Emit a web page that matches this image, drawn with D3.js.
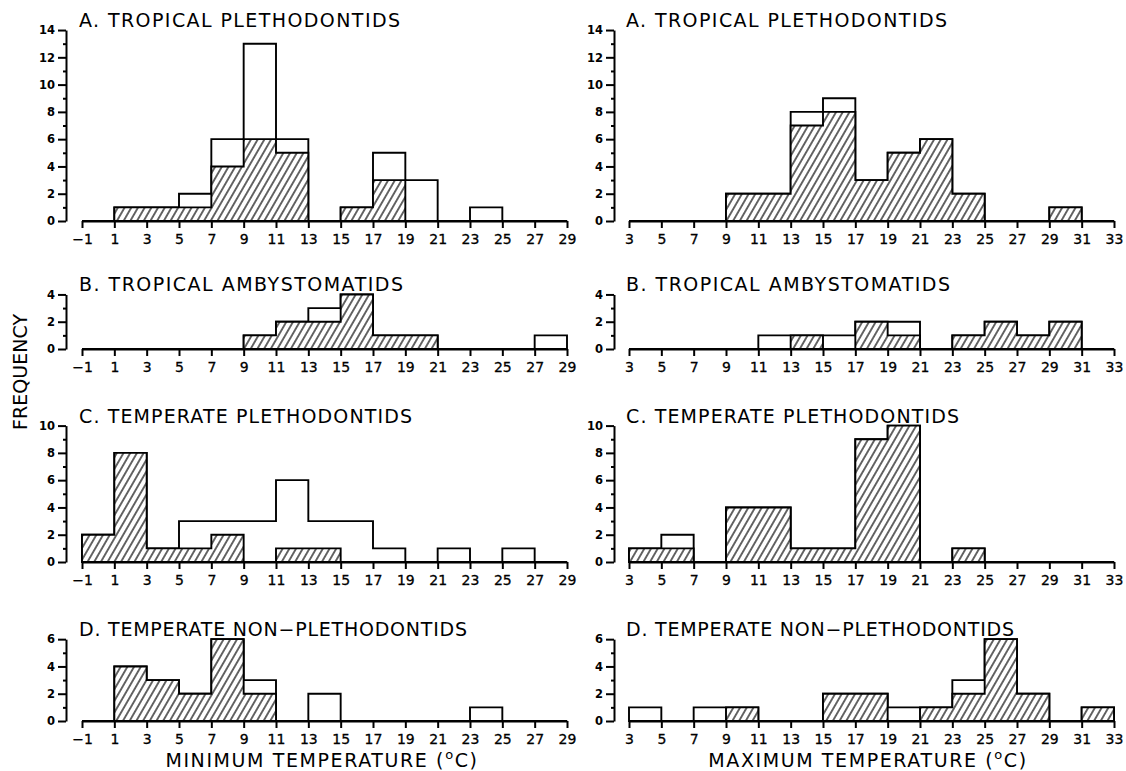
<!DOCTYPE html>
<html>
<head>
<meta charset="utf-8">
<script src="https://cdnjs.cloudflare.com/ajax/libs/d3/7.8.5/d3.min.js"></script>
<style>
  body { margin: 0; background: #fff; }
  svg text { font-family: "DejaVu Sans", sans-serif; fill: #000; }
</style>
</head>
<body>
<div id="chart"></div>
<script>
// Bin starts, 2 degree wide bins
const minBins = [-1, 1, 3, 5, 7, 9, 11, 13, 15, 17, 19, 21, 23, 25, 27];
const maxBins = [3, 5, 7, 9, 11, 13, 15, 17, 19, 21, 23, 25, 27, 29, 31];
const minTicks = [-1, 1, 3, 5, 7, 9, 11, 13, 15, 17, 19, 21, 23, 25, 27, 29];
const maxTicks = [3, 5, 7, 9, 11, 13, 15, 17, 19, 21, 23, 25, 27, 29, 31, 33];

// Row titles and y maxima
const titles = ["A. TROPICAL PLETHODONTIDS", "B. TROPICAL AMBYSTOMATIDS",
  "C. TEMPERATE PLETHODONTIDS", "D. TEMPERATE NON\u2212PLETHODONTIDS"];
const rowMax = [14, 4, 10, 6];

// Frequencies: outline = all species, hatched = subset
const minA_total = [0, 1, 1, 2, 6, 13, 6, 0, 1, 5, 3, 0, 1, 0, 0];
const minA_hatch = [0, 1, 1, 1, 4, 6, 5, 0, 1, 3, 0, 0, 0, 0, 0];
const maxA_total = [0, 0, 0, 2, 2, 8, 9, 3, 5, 6, 2, 0, 0, 1, 0];
const maxA_hatch = [0, 0, 0, 2, 2, 7, 8, 3, 5, 6, 2, 0, 0, 1, 0];

const minB_total = [0, 0, 0, 0, 0, 1, 2, 3, 4, 1, 1, 0, 0, 0, 1];
const minB_hatch = [0, 0, 0, 0, 0, 1, 2, 2, 4, 1, 1, 0, 0, 0, 0];
const maxB_total = [0, 0, 0, 0, 1, 1, 1, 2, 2, 0, 1, 2, 1, 2, 0];
const maxB_hatch = [0, 0, 0, 0, 0, 1, 0, 2, 1, 0, 1, 2, 1, 2, 0];

const minC_total = [2, 8, 1, 3, 3, 3, 6, 3, 3, 1, 0, 1, 0, 1, 0];
const minC_hatch = [2, 8, 1, 1, 2, 0, 1, 1, 0, 0, 0, 0, 0, 0, 0];
const maxC_total = [1, 2, 0, 4, 4, 1, 1, 9, 10, 0, 1, 0, 0, 0, 0];
const maxC_hatch = [1, 1, 0, 4, 4, 1, 1, 9, 10, 0, 1, 0, 0, 0, 0];

const minD_total = [0, 4, 3, 2, 6, 3, 0, 2, 0, 0, 0, 0, 1, 0, 0];
const minD_hatch = [0, 4, 3, 2, 6, 2, 0, 0, 0, 0, 0, 0, 0, 0, 0];
const maxD_total = [1, 0, 1, 1, 0, 0, 2, 2, 1, 1, 3, 6, 2, 0, 1];
const maxD_hatch = [0, 0, 0, 1, 0, 0, 2, 2, 0, 1, 2, 6, 2, 0, 1];

const totals = [[minA_total, maxA_total], [minB_total, maxB_total],
  [minC_total, maxC_total], [minD_total, maxD_total]];
const hatches = [[minA_hatch, maxA_hatch], [minB_hatch, maxB_hatch],
  [minC_hatch, maxC_hatch], [minD_hatch, maxD_hatch]];

// Layout
const width = 1126, height = 771;
const unit = 13.64;
const cols = [
  { yAxisX: 66, left: 82, right: 567, bins: minBins, ticks: minTicks, titleX: 79 },
  { yAxisX: 614, left: 629, right: 1114, bins: maxBins, ticks: maxTicks, titleX: 626 }
];
const baselines = [221, 349, 562, 721];
const titleWidths = [321, 324, 333, 388];

const svg = d3.select("#chart").append("svg")
  .attr("width", width)
  .attr("height", height);

// hatch pattern
svg.append("defs").append("pattern")
  .attr("id", "hatch")
  .attr("patternUnits", "userSpaceOnUse")
  .attr("width", 5.8)
  .attr("height", 5.8)
  .attr("patternTransform", "rotate(30)")
  .call(p => p.append("rect").attr("width", 5.8).attr("height", 5.8).attr("fill", "#fff"))
  .append("line")
  .attr("x1", 2.9).attr("y1", -1)
  .attr("x2", 2.9).attr("y2", 7)
  .attr("stroke", "#000")
  .attr("stroke-width", 1.2);

rowMax.forEach((ymax, r) => {
  cols.forEach((c, ci) => {
    const x = d3.scaleLinear().domain([c.ticks[0], c.ticks[c.ticks.length - 1]]).range([c.left, c.right]);
    const base = baselines[r];
    const y = d3.scaleLinear().domain([0, ymax]).range([base, base - ymax * unit]);

    const g = svg.append("g");

    // histogram outlines as step areas
    const area = d3.area()
      .curve(d3.curveStepAfter)
      .x(d => x(d.x))
      .y0(y(0))
      .y1(d => y(d.v));

    const toPts = vals => {
      const pts = c.bins.map((b, i) => ({ x: b, v: vals[i] }));
      pts.push({ x: c.bins[c.bins.length - 1] + 2, v: vals[vals.length - 1] });
      return pts;
    };

    g.append("path")
      .datum(toPts(totals[r][ci]))
      .attr("d", area)
      .attr("fill", "#fff")
      .attr("stroke", "#000")
      .attr("stroke-width", 1.9)
      .attr("stroke-linejoin", "miter");

    g.append("path")
      .datum(toPts(hatches[r][ci]))
      .attr("d", area)
      .attr("fill", "url(#hatch)")
      .attr("stroke", "#000")
      .attr("stroke-width", 1.9)
      .attr("stroke-linejoin", "miter");

    // x axis
    const xa = g.append("g")
      .attr("transform", `translate(0,${base})`)
      .call(d3.axisBottom(x).tickValues(c.ticks).tickSize(7).tickSizeOuter(0).tickPadding(6).tickFormat(d3.format("d")));
    xa.selectAll("path, line").attr("stroke", "#000").attr("stroke-width", 2);
    xa.selectAll("text").style("font-size", "14px").attr("stroke", "#000").attr("stroke-width", 0.3);

    // y axis, major + minor ticks
    const yTicks = d3.range(0, ymax + 1, 2);
    const yMinor = d3.range(1, ymax, 2);
    const ya = g.append("g")
      .attr("transform", `translate(${c.yAxisX},0)`)
      .call(d3.axisLeft(y).tickValues(yTicks).tickSize(8).tickSizeOuter(0).tickPadding(3).tickFormat(d3.format("d")));
    ya.selectAll("path, line").attr("stroke", "#000").attr("stroke-width", 2);
    ya.selectAll("text").style("font-size", "11.5px").style("font-weight", "bold");

    const ym = g.append("g")
      .attr("transform", `translate(${c.yAxisX},0)`)
      .call(d3.axisLeft(y).tickValues(yMinor).tickSize(3).tickFormat(""));
    ym.select(".domain").remove();
    ym.selectAll("line").attr("stroke", "#000").attr("stroke-width", 2);

    // panel title
    g.append("text")
      .attr("x", c.titleX)
      .attr("y", y(ymax) - 3)
      .attr("textLength", titleWidths[r])
      .attr("lengthAdjust", "spacing")
      .style("font-size", "19px")
      .text(titles[r]);
  });
});

// axis titles
svg.append("text")
  .attr("transform", "translate(27,372) rotate(-90)")
  .attr("text-anchor", "middle")
  .attr("textLength", 116)
  .attr("lengthAdjust", "spacing")
  .style("font-size", "19px")
  .text("FREQUENCY");

const xLabels = [
  { text: "MINIMUM TEMPERATURE (", cx: 322 },
  { text: "MAXIMUM TEMPERATURE (", cx: 868 }
];
xLabels.forEach(l => {
  const t = svg.append("text")
    .attr("x", l.cx)
    .attr("y", 767)
    .attr("text-anchor", "middle")
    .style("font-size", "19px")
    .style("letter-spacing", "1.6px");
  t.append("tspan").text(l.text);
  t.append("tspan").attr("dy", -8).style("font-size", "13px").text("o");
  t.append("tspan").attr("dy", 8).text("C)");
});
</script>
</body>
</html>
